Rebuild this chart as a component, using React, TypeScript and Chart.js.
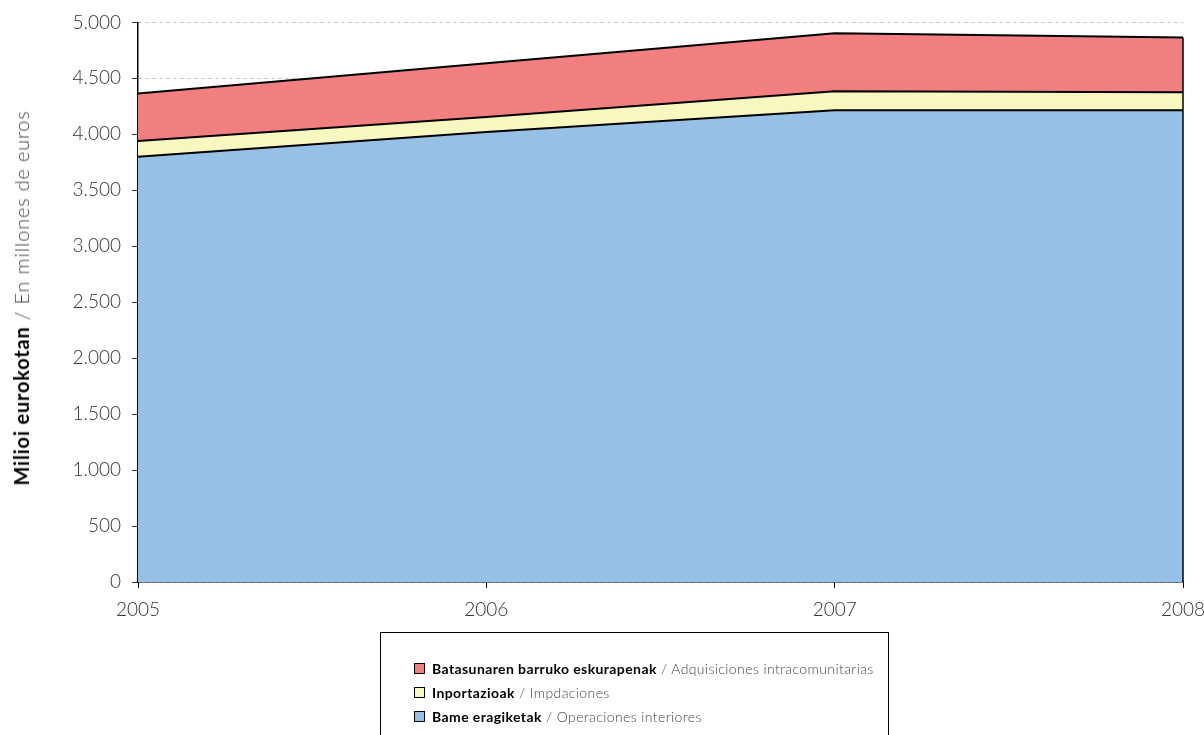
import React, { useEffect, useRef } from "react";
import { Chart, registerables } from "chart.js";

Chart.register(...registerables);

const years = ["2005", "2006", "2007", "2008"];
const interiores = [3800, 4020, 4215, 4215];
const importaciones = [140, 135, 170, 160];
const intracomunitarias = [425, 480, 518, 490];

const yTicks = [0, 500, 1000, 1500, 2000, 2500, 3000, 3500, 4000, 4500, 5000];

const FONT = "Lato, 'DejaVu Sans', sans-serif";

const edgePlugin = {
  id: "edgePlugin",
  afterDatasetsDraw(chart: any) {
    const { ctx, chartArea, scales } = chart;
    const y = scales.y;
    const lastIdx = years.length - 1;
    const top = interiores[lastIdx] + importaciones[lastIdx] + intracomunitarias[lastIdx];
    ctx.save();
    ctx.strokeStyle = "#000";
    ctx.lineWidth = 1.5;
    ctx.beginPath();
    ctx.moveTo(chartArea.right, y.getPixelForValue(0));
    ctx.lineTo(chartArea.right, y.getPixelForValue(top));
    ctx.stroke();
    ctx.restore();
  },
};

export default function App() {
  const ref = useRef<HTMLCanvasElement>(null);
  useEffect(() => {
    document.body.style.margin = "0";
    const chart = new Chart(ref.current!, {
      type: "line",
      data: {
        labels: years,
        datasets: [
          {
            label: "Bame eragiketak",
            data: interiores,
            backgroundColor: "#97C0E6",
            borderColor: "#000",
            borderWidth: 2,
            fill: "origin",
            pointRadius: 0,
            tension: 0,
          },
          {
            label: "Inportazioak",
            data: importaciones,
            backgroundColor: "#F7F7C0",
            borderColor: "#000",
            borderWidth: 2,
            fill: "-1",
            pointRadius: 0,
            tension: 0,
          },
          {
            label: "Batasunaren barruko eskurapenak",
            data: intracomunitarias,
            backgroundColor: "#F27F80",
            borderColor: "#000",
            borderWidth: 2,
            fill: "-1",
            pointRadius: 0,
            tension: 0,
          },
        ],
      },
      options: {
        responsive: false,
        animation: false,
        layout: { padding: { top: 22, right: 21, bottom: 113, left: 0 } },
        plugins: {
          legend: { display: false },
          tooltip: { enabled: false },
        },
        scales: {
          x: {
            type: "category",
            offset: false,
            grid: {
              drawOnChartArea: false,
              drawTicks: true,
              tickLength: 6,
              tickColor: "#000",
            },
            border: { display: true, color: "#000", width: 1.5 },
            ticks: {
              color: "#333",
              font: { family: FONT, size: 19, weight: "300" as any },
              padding: 10,
              maxRotation: 0,
            },
            afterFit(scale: any) {
              scale.height = 40;
              scale.paddingLeft = 0;
              scale.paddingRight = 0;
            },
          },
          y: {
            stacked: true,
            min: 0,
            max: 5000,
            afterBuildTicks(scale: any) {
              scale.ticks = yTicks.map((v) => ({ value: v }));
            },
            grid: {
              color: "#bbb",
              tickColor: "#333",
              tickLength: 6,
              lineWidth: 1,
            },
            border: { display: true, color: "#000", width: 1.5, dash: [3, 4] },
            ticks: {
              color: "#333",
              font: { family: FONT, size: 19, weight: "300" as any },
              padding: 11,
              callback: (v: any) => Number(v).toLocaleString("de-DE"),
            },
            afterFit(scale: any) {
              scale.width = 138;
            },
          },
        },
      },
      plugins: [edgePlugin],
    });
    return () => chart.destroy();
  }, []);

  const legendRow = (color: string, bold: string, light: string) => (
    <div style={{ display: "flex", alignItems: "center", height: 24 }}>
      <span
        style={{
          display: "inline-block",
          width: 9,
          height: 9,
          background: color,
          border: "1.5px solid #000",
          marginRight: 7,
        }}
      />
      <span style={{ fontWeight: 700, color: "#000" }}>{bold}</span>
      <span style={{ fontWeight: 300, color: "#444" }}>&nbsp;/ {light}</span>
    </div>
  );

  return (
    <div style={{ position: "relative", width: 1204, height: 735, overflow: "hidden", fontFamily: FONT }}>
      <canvas ref={ref} width={1204} height={735} style={{ display: "block" }} />
      <div
        style={{
          position: "absolute",
          left: 21,
          top: 298,
          transform: "translate(-50%, -50%) rotate(-90deg)",
          whiteSpace: "nowrap",
          fontSize: 20,
          letterSpacing: 0.8,
          color: "#000",
        }}
      >
        <span style={{ fontWeight: 700 }}>Milioi eurokotan</span>
        <span style={{ fontWeight: 300, color: "#444" }}>&nbsp;/ En millones de euros</span>
      </div>
      <div
        style={{
          position: "absolute",
          left: 380,
          top: 632,
          width: 509,
          height: 120,
          border: "1px solid #000",
          boxSizing: "border-box",
          paddingLeft: 33,
          paddingTop: 23,
          fontSize: 14,
          letterSpacing: 0.4,
        }}
      >
        {legendRow("#F27F80", "Batasunaren barruko eskurapenak", "Adquisiciones intracomunitarias")}
        {legendRow("#F7F7C0", "Inportazioak", "Impdaciones")}
        {legendRow("#97C0E6", "Bame eragiketak", "Operaciones interiores")}
      </div>
    </div>
  );
}
